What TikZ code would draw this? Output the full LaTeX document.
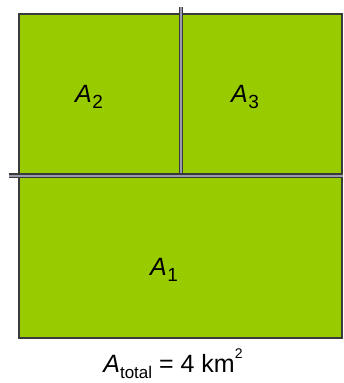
\documentclass[tikz,border=0pt]{standalone}
\usepackage{fontspec}
\setmainfont{Liberation Sans}
\definecolor{field}{HTML}{99CC00}
\definecolor{edge}{HTML}{3A3A3A}
\definecolor{gap}{HTML}{9A9AB0}
\newcommand{\myArea}[1]{\textit{A}\kern0.5pt\raisebox{-0.22em}{\fontsize{19}{20}\selectfont #1}}
\tikzset{
  plot/.style={fill=field, draw=edge, line width=2pt},
  divider/.style={draw=edge, line width=1.4pt, double=gap, double distance=2pt},
  lbl/.style={font=\fontsize{25}{28}\selectfont, inner sep=0pt}
}
\begin{document}
\begin{tikzpicture}[x=1pt,y=-1pt]
\useasboundingbox[fill=white] (0,0) rectangle (344,383);
\path[plot] (18.5,14) rectangle (342,337.5);
\coordinate (hl) at (9,175.5);
\coordinate (hr) at (343,175.5);
\coordinate (vt) at (181,7);
\coordinate (vb) at (181,175.5);
\draw[divider] (vt) -- (vb);
\draw[divider] (hl) -- (hr);
\node[lbl] (a2) at (89,97) {\myArea{2}};
\node[lbl] (a3) at (245,97) {\myArea{3}};
\node[lbl] (a1) at (164,270) {\myArea{1}};
\node[lbl] (tot) at (173,364) {\textit{A}\raisebox{-0.25em}{\fontsize{17}{18}\selectfont total} = 4 km\raisebox{0.55em}{\fontsize{14}{15}\selectfont 2}};
\end{tikzpicture}
\end{document}
